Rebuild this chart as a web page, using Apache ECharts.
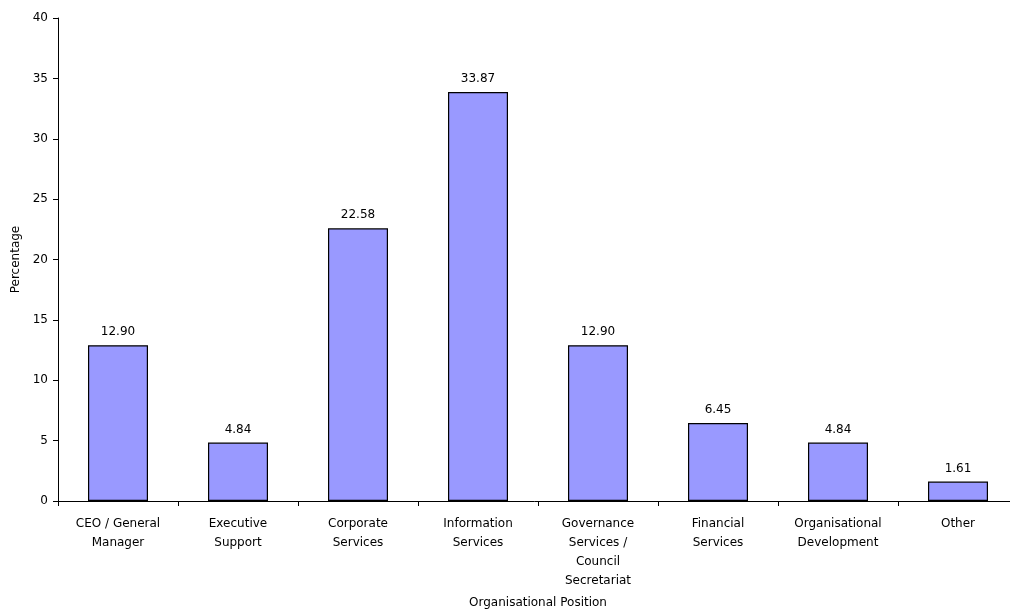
<!DOCTYPE html>
<html>
<head>
<meta charset="utf-8">
<script src="https://cdn.jsdelivr.net/npm/echarts@6/dist/echarts.min.js"></script>
<style>
html, body { margin: 0; padding: 0; background: #fff; }
#chart { width: 1010px; height: 611px; }
</style>
</head>
<body>
<div id="chart"></div>
<script>
// Share of respondents by organisational position
const categories = [
  'CEO / General\nManager',
  'Executive\nSupport',
  'Corporate\nServices',
  'Information\nServices',
  'Governance\nServices /\nCouncil\nSecretariat',
  'Financial\nServices',
  'Organisational\nDevelopment',
  'Other'
];
const percentages = [12.90, 4.84, 22.58, 33.87, 12.90, 6.45, 4.84, 1.61];

const fontFamily = 'DejaVu Sans, Verdana, sans-serif';
const chart = echarts.init(document.getElementById('chart'));
chart.setOption({
  animation: false,
  grid: { left: 58, top: 18, bottom: 110, width: 960, containLabel: false, outerBoundsMode: 'none' },
  xAxis: {
    type: 'category',
    data: categories,
    name: 'Organisational Position',
    nameLocation: 'middle',
    nameGap: 96,
    nameTextStyle: { color: '#000', fontSize: 12, fontFamily },
    axisLine: { lineStyle: { color: '#000', width: 1 } },
    axisTick: { show: true, length: 5, alignWithLabel: false, lineStyle: { color: '#000' } },
    axisLabel: {
      color: '#000', fontSize: 12, fontFamily, lineHeight: 19,
      margin: 13, interval: 0, verticalAlign: 'top'
    }
  },
  yAxis: {
    type: 'value',
    min: 0, max: 40, interval: 5,
    name: 'Percentage',
    nameLocation: 'middle',
    nameGap: 36,
    nameTextStyle: { color: '#000', fontSize: 12, fontFamily },
    axisLine: { show: true, lineStyle: { color: '#000', width: 1 } },
    axisTick: { show: true, length: 5, lineStyle: { color: '#000' } },
    axisLabel: { color: '#000', fontSize: 12, fontFamily, margin: 10 },
    splitLine: { show: false }
  },
  series: [{
    type: 'bar',
    data: percentages,
    barWidth: '50%',
    itemStyle: { color: '#9999FF', borderColor: '#000', borderWidth: 1.2 },
    label: {
      show: true, position: 'top', distance: 7,
      color: '#000', fontSize: 12, fontFamily,
      formatter: p => p.value.toFixed(2)
    }
  }]
});
</script>
</body>
</html>
